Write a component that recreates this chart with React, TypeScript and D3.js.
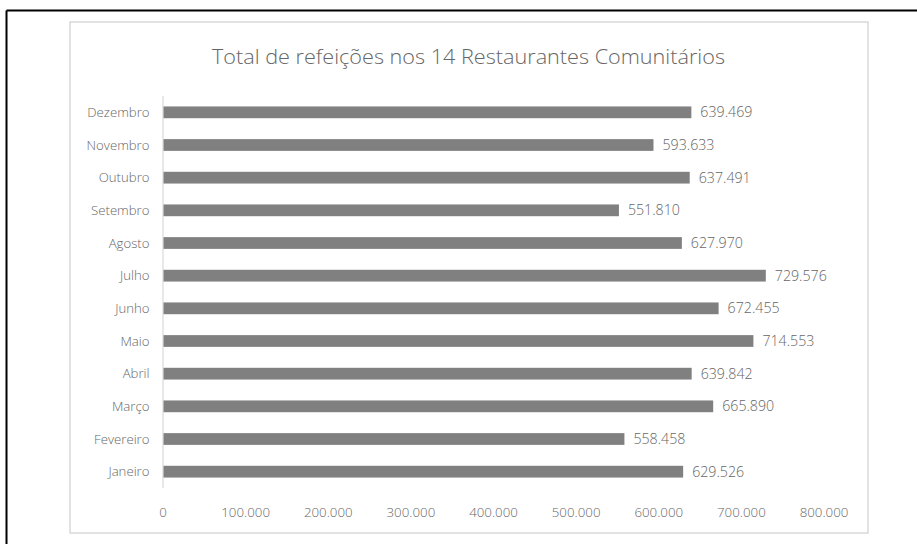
import React from "react";
import * as d3 from "d3";

const months = [
  "Janeiro", "Fevereiro", "Março", "Abril", "Maio", "Junho",
  "Julho", "Agosto", "Setembro", "Outubro", "Novembro", "Dezembro",
];
const values = [
  629526, 558458, 665890, 639842, 714553, 672455,
  729576, 627970, 551810, 637491, 593633, 639469,
];
const xTicks = [0, 100000, 200000, 300000, 400000, 500000, 600000, 700000, 800000];
const title = "Total de refeições nos 14 Restaurantes Comunitários";

const W = 917;
const H = 544;
const FONT = "'Open Sans', 'Noto Sans', sans-serif";
const TEXT = "#666666";

const locale = d3.formatLocale({ decimal: ",", thousands: ".", grouping: [3], currency: ["R$", ""] });
const fmt = locale.format(",d");

export default function App() {
  const x = d3.scaleLinear().domain([0, 800000]).range([163, 824]);
  const y = d3
    .scaleBand<string>()
    .domain([...months].reverse())
    .range([96, 488])
    .paddingInner(0.64)
    .paddingOuter(0.32);
  const bw = y.bandwidth();

  return (
    <div style={{ position: "fixed", left: 0, top: 0 }}>
      <svg width={W} height={H} style={{ display: "block", background: "#fff" }}>
        {/* outer frame (top & left) */}
        <line x1={6.5} y1={10.5} x2={W} y2={10.5} stroke="#000" strokeWidth={2} />
        <line x1={6.5} y1={10.5} x2={6.5} y2={H} stroke="#000" strokeWidth={2} />
        {/* chart area border */}
        <rect x={70} y={22} width={798} height={511} fill="#fff" stroke="#d9d9d9" strokeWidth={1.5} />
        {/* title */}
        <text
          x={468.5}
          y={63.5}
          textAnchor="middle"
          fontFamily={FONT}
          fontSize={19.5}
          fontWeight={300}
          fill={TEXT}
          textLength={513}
          lengthAdjust="spacingAndGlyphs"
        >
          {title}
        </text>
        {/* bars */}
        {months.map((m, i) => (
          <rect
            key={m}
            x={x(0)}
            y={y(m)!}
            width={x(values[i]) - x(0)}
            height={bw}
            fill="#808080"
          />
        ))}
        {/* axis line */}
        <line x1={163} y1={96} x2={163} y2={488} stroke="#d9d9d9" strokeWidth={1.2} />
        {/* category labels */}
        {months.map((m) => (
          <text
            key={"c" + m}
            x={149.5}
            y={y(m)! + bw / 2}
            dy="0.35em"
            textAnchor="end"
            fontFamily={FONT}
            fontSize={13.2}
            fontWeight={300}
            fill={TEXT}
          >
            {m}
          </text>
        ))}
        {/* value labels */}
        {months.map((m, i) => (
          <text
            key={"v" + m}
            x={x(values[i]) + 9}
            y={y(m)! + bw / 2}
            dy="0.35em"
            fontFamily={FONT}
            fontSize={14.2}
            fontWeight={300}
            fill={TEXT}
          >
            {fmt(values[i])}
          </text>
        ))}
        {/* x tick labels */}
        {xTicks.map((t) => (
          <text
            key={"t" + t}
            x={x(t)}
            y={517}
            textAnchor="middle"
            fontFamily={FONT}
            fontSize={13.3}
            fontWeight={300}
            fill={TEXT}
          >
            {fmt(t)}
          </text>
        ))}
      </svg>
    </div>
  );
}
